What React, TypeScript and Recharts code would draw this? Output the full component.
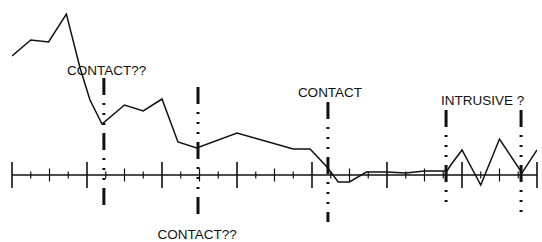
import { ComposedChart, Line, Scatter, XAxis, YAxis, ReferenceLine } from 'recharts';

// profile trace (x in minor tick units, y in arbitrary units above baseline)
const traceX = [0, 1, 1.95, 2.9, 3.63, 4.16, 4.8, 6, 7, 8, 8.85, 9.85, 12, 15, 15.9, 16.8, 17.4, 18, 18.9, 20, 21, 22, 23.2, 23.4, 24, 25, 26, 27.2, 28];
const traceY = [11.9, 13.5, 13.3, 16.1, 10.7, 7.5, 5.1, 7.0, 6.4, 7.6, 3.3, 2.7, 4.2, 2.6, 2.6, 0.8, -0.7, -0.7, 0.3, 0.3, 0.2, 0.4, 0.4, 1.0, 2.5, -1.0, 3.6, 0.2, 2.5];

// vertical dash-dot markers
const markerX = [4.9, 9.92, 16.85, 23.15, 27.15];
const markerTop = [9.7, 8.8, 7.3, 6.5, 6.5];
const markerBottom = [-3.7, -4.5, -4.7, -3.0, -4.3];

// annotations
const labelText = ['CONTACT??', 'CONTACT??', 'CONTACT', 'INTRUSIVE ?'];
const labelX = [5.05, 9.87, 16.96, 25.1];
const labelY = [10.0, -6.4, 7.8, 7.0];

const tickX = Array.from({ length: 29 }, (_, i) => i);

const trace = traceX.map((x, i) => ({ x, y: traceY[i] }));
const labels = labelText.map((text, i) => ({ x: labelX[i], y: labelY[i], text }));

const tickLen = (t: number) => (t % 4 === 0 ? 1.3 : t % 2 === 0 ? 0.65 : 0.35);

const LabelShape = (props: any) => (
  <text
    x={props.cx}
    y={props.cy}
    textAnchor="middle"
    fontFamily="Liberation Sans, Arial, sans-serif"
    fontSize={13.5}
    fill="#111"
  >
    {props.payload.text}
  </text>
);

export default function App() {
  return (
    <div style={{ position: 'absolute', left: 0, top: 0, background: '#fff' }}>
      <ComposedChart width={542} height={242} margin={{ top: 0, right: 5, bottom: 0, left: 12 }}>
        <XAxis dataKey="x" type="number" domain={[0, 28]} hide allowDataOverflow />
        <YAxis type="number" domain={[-6.7, 17.5]} hide allowDataOverflow />
        <ReferenceLine
          segment={[{ x: 0, y: 0 }, { x: 28, y: 0 }]}
          stroke="#111"
          strokeWidth={1.5}
        />
        {tickX.map((t) => (
          <ReferenceLine
            key={'t' + t}
            segment={[{ x: t, y: -tickLen(t) }, { x: t, y: tickLen(t) }]}
            stroke="#111"
            strokeWidth={t % 4 === 0 ? 1.6 : 1.2}
          />
        ))}
        {markerX.map((m, i) => (
          <ReferenceLine
            key={'m' + i}
            segment={[{ x: m, y: markerTop[i] }, { x: m, y: markerBottom[i] }]}
            stroke="#111"
            strokeWidth={3}
            strokeDasharray="17 8 2 8 2 8 2 8"
          />
        ))}
        <Line
          data={trace}
          dataKey="y"
          type="linear"
          stroke="#111"
          strokeWidth={1.5}
          dot={false}
          isAnimationActive={false}
        />
        <Scatter data={labels} dataKey="y" shape={LabelShape} isAnimationActive={false} />
      </ComposedChart>
    </div>
  );
}
